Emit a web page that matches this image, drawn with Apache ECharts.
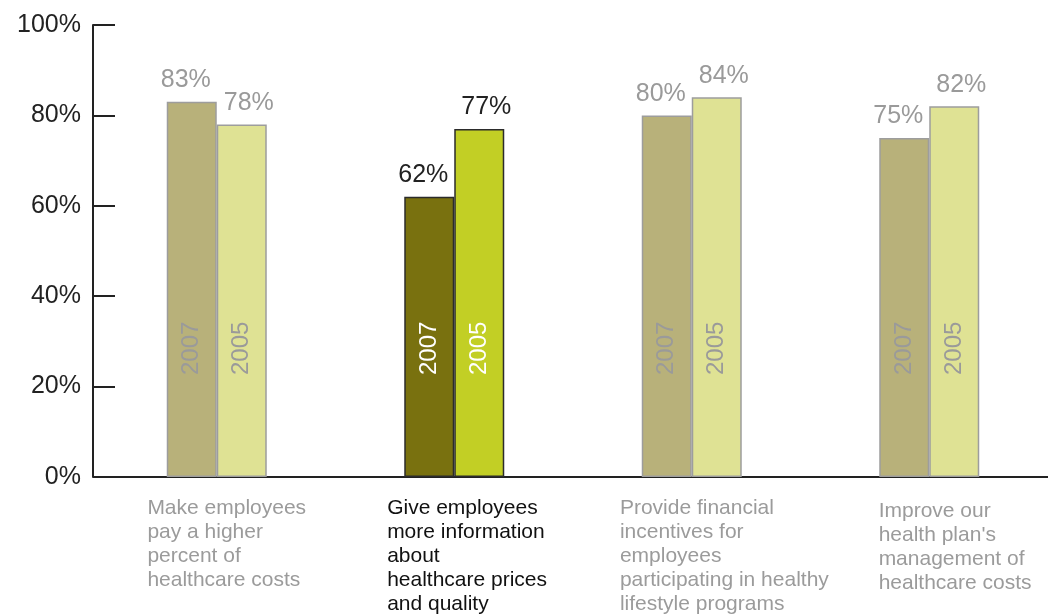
<!DOCTYPE html>
<html>
<head>
<meta charset="utf-8">
<script src="https://cdn.jsdelivr.net/npm/echarts@6/dist/echarts.min.js"></script>
<style>html,body{margin:0;padding:0;background:#fff}#c{width:1048px;height:616px}</style>
</head>
<body>
<div id="c"></div>
<script>
var categories = [
  ['Make employees', 'pay a higher', 'percent of', 'healthcare costs'],
  ['Give employees', 'more information', 'about', 'healthcare prices', 'and quality'],
  ['Provide financial', 'incentives for', 'employees', 'participating in healthy', 'lifestyle programs'],
  ['Improve our', "health plan's", 'management of', 'healthcare costs']
];
var seriesNames = ['2007', '2005'];
var values2007 = [83, 62, 80, 75];
var values2005 = [78, 77, 84, 82];
var yTicks = [0, 20, 40, 60, 80, 100];
var highlighted = 1;

var FONT = '"Liberation Sans", Arial, Helvetica, sans-serif';
var fadedFill = ['#b8b17a', '#dfe294'];
var hiFill = ['#79710f', '#c2cf25'];

function makeData(vals, s) {
  return vals.map(function (v, i) {
    var hi = i === highlighted;
    return {
      value: v,
      itemStyle: {
        color: hi ? hiFill[s] : fadedFill[s],
        borderColor: hi ? '#2b2b2b' : '#9d9d9d',
        borderWidth: 1.5
      },
      label: {
        color: hi ? '#222' : '#9a9a9a'
      }
    };
  });
}

function makeSeries(vals, s) {
  return {
    type: 'bar',
    name: seriesNames[s],
    xAxisIndex: 0,
    yAxisIndex: 0,
    barWidth: 50,
    barGap: '0%',
    data: makeData(vals, s),
    label: {
      show: true,
      position: 'top',
      distance: 9,
      offset: [s === 0 ? -6 : 7, 0],
      fontFamily: FONT,
      fontSize: 25,
      formatter: '{c}%'
    }
  };
}

function yearSeries(vals, s) {
  return {
    type: 'bar',
    name: seriesNames[s] + '-label',
    xAxisIndex: 2,
    yAxisIndex: 2,
    barWidth: 50,
    barGap: '0%',
    silent: true,
    itemStyle: { color: 'rgba(0,0,0,0)' },
    data: vals.map(function (v, i) {
      return { value: v, label: { color: i === highlighted ? '#ffffff' : '#9a9a9a' } };
    }),
    label: {
      show: true,
      position: 'insideBottom',
      distance: 102,
      rotate: 90,
      align: 'left',
      verticalAlign: 'middle',
      fontFamily: FONT,
      fontSize: 24,
      formatter: seriesNames[s]
    },
    z: 5
  };
}

var labelPads = [[0, 0, 0, 6], [0, 0, 0, 7], [0, 0, 0, 1], [3, 0, 0, 21]];
var catData = categories.map(function (lines, i) {
  return {
    value: lines.join('\n'),
    textStyle: {
      color: i === highlighted ? '#111111' : '#9b9b9b',
      align: 'left',
      verticalAlign: 'top',
      fontFamily: FONT,
      fontSize: 21,
      lineHeight: 24,
      padding: labelPads[i]
    }
  };
});

var option = {
  animation: false,
  backgroundColor: '#ffffff',
  grid: [
    { left: 98, top: 25, width: 955, bottom: 139 },
    { left: 22, top: 25, width: 955, bottom: 135 },
    { left: 98, top: 25, width: 955, bottom: 139 }
  ],
  xAxis: [
    {
      type: 'category',
      gridIndex: 0,
      data: categories.map(function (l) { return l.join(' '); }),
      axisLine: { show: true, lineStyle: { color: '#222', width: 2 } },
      axisTick: { show: false },
      axisLabel: { show: false },
      splitLine: { show: false }
    },
    {
      type: 'category',
      gridIndex: 1,
      data: catData,
      axisLine: { show: false },
      axisTick: { show: false },
      axisLabel: {
        show: true,
        align: 'left',
        verticalAlign: 'top',
        margin: 22,
        fontFamily: FONT,
        fontSize: 21,
        lineHeight: 24,
        interval: 0
      }
    },
    {
      type: 'category',
      gridIndex: 2,
      data: categories.map(function (l) { return l.join(' '); }),
      show: false
    }
  ],
  yAxis: [
    {
      type: 'value',
      gridIndex: 0,
      min: 0,
      max: 100,
      interval: 20,
      offset: 5,
      axisLine: { show: true, lineStyle: { color: '#222', width: 2 } },
      axisTick: { show: true, inside: true, length: 22, lineStyle: { color: '#222', width: 2 } },
      axisLabel: {
        margin: 12,
        color: '#222',
        fontFamily: FONT,
        fontSize: 25,
        formatter: function (v) { return yTicks.indexOf(v) >= 0 ? v + '%' : ''; }
      },
      splitLine: { show: false }
    },
    { type: 'value', gridIndex: 1, min: 0, max: 100, show: false },
    { type: 'value', gridIndex: 2, min: 0, max: 100, show: false }
  ],
  series: [makeSeries(values2007, 0), makeSeries(values2005, 1), yearSeries(values2007, 0), yearSeries(values2005, 1)]
};

var chart = echarts.init(document.getElementById('c'), null, { renderer: 'canvas' });
chart.setOption(option);
</script>
</body>
</html>
